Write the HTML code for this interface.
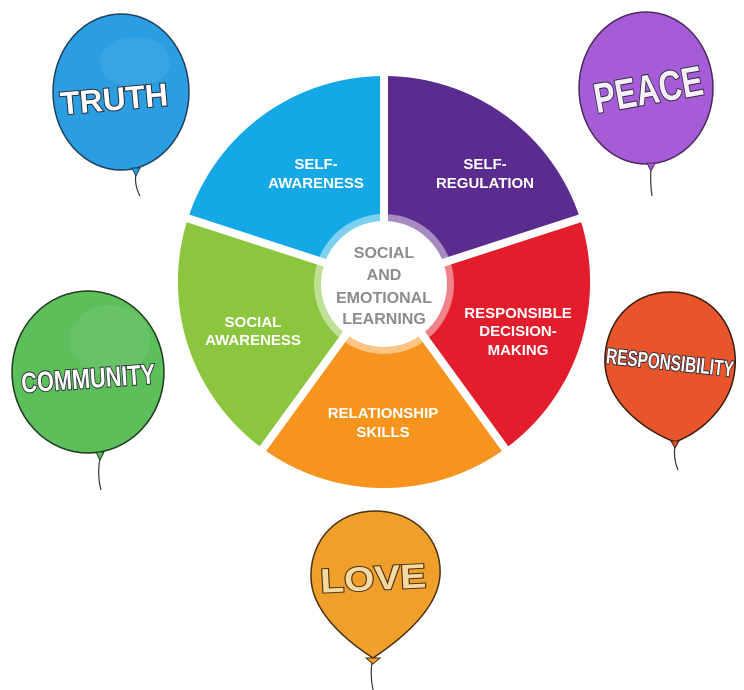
<!DOCTYPE html>
<html><head><meta charset="utf-8"><style>
html,body{margin:0;padding:0;background:#fff;width:744px;height:690px;overflow:hidden}
svg{display:block}
.w{font-family:"Liberation Sans",sans-serif;font-weight:bold;fill:#fff;font-size:15px;text-anchor:middle}
.c{font-family:"Liberation Sans",sans-serif;font-weight:bold;fill:#8c8c8c;font-size:16px;text-anchor:middle}
.b{font-family:"Liberation Sans",sans-serif;font-weight:bold;fill:#fff;stroke:#2a2a3a;stroke-width:2;paint-order:stroke;text-anchor:middle}
</style></head><body>
<svg width="744" height="690" viewBox="0 0 744 690">
<path d="M384,282 L384,76 A206,206 0 0 1 580,218.3 Z" fill="#5b2c8f"/>
<path d="M384,282 L580,218.3 A206,206 0 0 1 505.1,448.7 Z" fill="#e31d2b"/>
<path d="M384,282 L505.1,448.7 A206,206 0 0 1 262.9,448.7 Z" fill="#f7941d"/>
<path d="M384,282 L262.9,448.7 A206,206 0 0 1 188,218.3 Z" fill="#8cc63f"/>
<path d="M384,282 L188,218.3 A206,206 0 0 1 384,76 Z" fill="#14a9e6"/>
<g stroke="#fff" stroke-width="8">
<line x1="384" y1="282" x2="384" y2="70"/>
<line x1="384" y1="282" x2="586" y2="216.4"/>
<line x1="384" y1="282" x2="508.6" y2="453.5"/>
<line x1="384" y1="282" x2="259.4" y2="453.5"/>
<line x1="384" y1="282" x2="182" y2="216.4"/>
</g>
<circle cx="384" cy="284" r="70" fill="#fff" opacity="0.45"/>
<circle cx="384" cy="284" r="63" fill="#fff"/>
<text class="c" x="384" y="258">SOCIAL</text>
<text class="c" x="384" y="280">AND</text>
<text class="c" x="384" y="303">EMOTIONAL</text>
<text class="c" x="384" y="324">LEARNING</text>
<text class="w" x="316" y="169">SELF-</text>
<text class="w" x="316" y="188">AWARENESS</text>
<text class="w" x="485" y="169">SELF-</text>
<text class="w" x="485" y="188">REGULATION</text>
<text class="w" x="253" y="327">SOCIAL</text>
<text class="w" x="253" y="345">AWARENESS</text>
<text class="w" x="518" y="318">RESPONSIBLE</text>
<text class="w" x="518" y="336">DECISION-</text>
<text class="w" x="518" y="355">MAKING</text>
<text class="w" x="383" y="418">RELATIONSHIP</text>
<text class="w" x="383" y="437">SKILLS</text>

<g stroke="#333" stroke-width="1.2" fill="none">
<path d="M136,172 Q134,185 140,196"/>
<path d="M651,168 Q650,182 652,196"/>
<path d="M100,458 Q97,475 101,490"/>
<path d="M675,446 Q673,458 678,470"/>
<path d="M372,662 Q370,676 373,690"/>
</g>
<ellipse cx="121" cy="92" rx="68" ry="78" fill="#2a9ee0" stroke="#1f3f5c" stroke-width="1.5"/>
<ellipse cx="135" cy="62" rx="35" ry="25" fill="#fff" opacity="0.07"/>
<path d="M132,168 L140,168 L136,176 Z" fill="#2a9ee0" stroke="#1f3f5c"/>
<text class="b" x="114" y="110" font-size="32" textLength="108" lengthAdjust="spacingAndGlyphs" transform="rotate(-5 114 98)">TRUTH</text>
<ellipse cx="646" cy="88" rx="67" ry="76" fill="#a65cd6" stroke="#4a2a5a" stroke-width="1.5"/>
<path d="M647,163 L655,163 L651,171 Z" fill="#a65cd6" stroke="#4a2a5a"/>
<text class="b" x="648" y="104" font-size="42" textLength="110" lengthAdjust="spacingAndGlyphs" transform="rotate(-10 648 88)" style="fill:#f6eefa">PEACE</text>
<ellipse cx="88" cy="372" rx="76" ry="81" fill="#5cbf5a" stroke="#1f3a1f" stroke-width="1.5"/>
<ellipse cx="110" cy="340" rx="40" ry="35" fill="#fff" opacity="0.07"/>
<path d="M96,452 L104,452 L100,460 Z" fill="#5cbf5a" stroke="#1f3a1f"/>
<text class="b" x="88" y="388" font-size="28" textLength="134" lengthAdjust="spacingAndGlyphs" transform="rotate(-4 88 376)">COMMUNITY</text>
<path d="M670,292 C715,292 738,330 735,368 C732,405 702,432 675,442 C648,432 608,405 605,365 C603,325 630,292 670,292 Z" fill="#e8552a" stroke="#3a1a10" stroke-width="1.5"/>
<path d="M671,441 L679,441 L675,448 Z" fill="#e8552a" stroke="#3a1a10"/>
<text class="b" x="670" y="370" font-size="22" textLength="128" lengthAdjust="spacingAndGlyphs" transform="rotate(6 670 362)">RESPONSIBILITY</text>
<path d="M375,511 C415,511 442,540 440,575 C438,610 400,640 373,658 C345,640 310,610 311,575 C311,540 337,511 375,511 Z" fill="#f0a02a" stroke="#4a3010" stroke-width="1.5"/>
<path d="M366,658 L380,658 L373,664 Z" fill="#f0a02a" stroke="#4a3010"/>
<text class="b" x="373" y="590" font-size="34" textLength="106" lengthAdjust="spacingAndGlyphs" style="fill:#f6d9a0;stroke:#4a3010" transform="rotate(-3 373 575)">LOVE</text>
</svg>
</body></html>
